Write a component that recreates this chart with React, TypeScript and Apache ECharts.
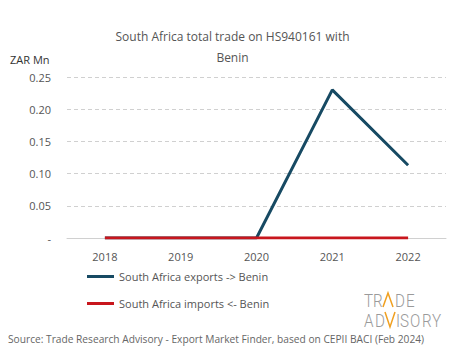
import React, { useEffect, useRef } from "react";
import * as echarts from "echarts";

const years = ["2018", "2019", "2020", "2021", "2022"];
const exportsToBenin = [0, 0, 0, 0.23, 0.113];
const importsFromBenin = [0, 0, 0, 0, 0];
const seriesNames = ["South Africa exports -> Benin", "South Africa imports <- Benin"];

const FONT = "'Open Sans', 'Noto Sans', sans-serif";

const logoLetters: [string, number, number][] = [
  ["T", 364, 291], ["R", 373, 291], ["D", 395, 291], ["E", 406, 291],
  ["A", 364, 311], ["D", 375, 311], ["I", 396, 311], ["S", 400, 311], ["O", 410, 311], ["R", 422, 311], ["Y", 432, 311],
];

export default function App() {
  const ref = useRef<HTMLDivElement>(null);
  useEffect(() => {
    if (!ref.current) return;
    const chart = echarts.init(ref.current, null, { renderer: "svg" });
    chart.setOption({
      animation: false,
      backgroundColor: "#ffffff",
      textStyle: { fontFamily: FONT },
      title: {
        text: "South Africa total trade on HS940161 with\nBenin",
        left: "center",
        top: 21,
        textStyle: { fontSize: 12, fontWeight: "normal", color: "#555", lineHeight: 21, fontFamily: FONT },
      },
      grid: { left: 67, right: 19, top: 77, bottom: 121 },
      legend: {
        orient: "vertical",
        left: 82,
        top: 266,
        itemWidth: 27,
        itemHeight: 3,
        itemGap: 16,
        icon: "rect",
        textStyle: { fontSize: 11, color: "#555", fontFamily: FONT },
        data: seriesNames,
      },
      xAxis: {
        type: "category",
        data: years,
        boundaryGap: true,
        axisLine: { lineStyle: { color: "#d0d0d0", width: 1 } },
        axisTick: { show: false },
        axisLabel: { color: "#555", fontSize: 11, margin: 13 },
      },
      yAxis: {
        type: "value",
        min: 0,
        max: 0.25,
        interval: 0.05,
        axisLine: { show: false },
        axisTick: { show: false },
        splitLine: { lineStyle: { color: "#d0d0d0", type: [4, 3] } },
        axisLabel: {
          color: "#555",
          fontSize: 11,
          margin: 16,
          formatter: (v: number) => (Math.abs(v) < 1e-9 ? "-" : v.toFixed(2)),
        },
      },
      series: [
        {
          name: seriesNames[0],
          type: "line",
          data: exportsToBenin,
          symbol: "none",
          lineStyle: { color: "#174a63", width: 3 },
          itemStyle: { color: "#174a63" },
        },
        {
          name: seriesNames[1],
          type: "line",
          data: importsFromBenin,
          symbol: "none",
          lineStyle: { color: "#c8161d", width: 3 },
          itemStyle: { color: "#c8161d" },
        },
      ],
      graphic: [
        { type: "text", left: 10, top: 54, style: { text: "ZAR Mn", fontSize: 11, fill: "#333", fontFamily: FONT } },
        {
          type: "text",
          left: 8,
          top: 334,
          style: {
            text: "Source: Trade Research Advisory - Export Market Finder, based on CEPII BACI (Feb 2024)",
            fontSize: 10.2,
            fill: "#666",
            fontFamily: FONT,
          },
        },
        ...logoLetters.map(([t, x, y]) => ({
          type: "text",
          x,
          y,
          scaleX: 0.8,
          style: { text: t, fontSize: 19, fontWeight: 300, fill: "#9a9a9a", fontFamily: "Roboto, sans-serif" },
        })),
        { type: "polyline", shape: { points: [[383, 307], [388, 293], [393, 307]] }, style: { stroke: "#f0a020", lineWidth: 1.5, fill: "none" } },
        { type: "polyline", shape: { points: [[385, 312], [390, 327], [395, 312]] }, style: { stroke: "#f0a020", lineWidth: 1.5, fill: "none" } },
      ],
    });
    return () => chart.dispose();
  }, []);
  return <div ref={ref} style={{ width: 465, height: 359, position: "absolute", left: 0, top: 0 }} />;
}
